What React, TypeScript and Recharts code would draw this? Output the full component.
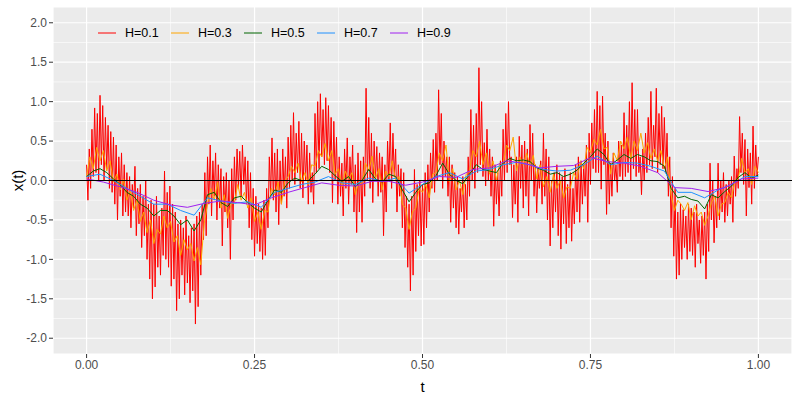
import { LineChart, Line, XAxis, YAxis, CartesianGrid, ReferenceLine } from "recharts";

const SERIES_NAMES = ["H=0.1", "H=0.3", "H=0.5", "H=0.7", "H=0.9"];
const SERIES_COLORS = ["#FF0000", "#FFA500", "#006400", "#1E90FF", "#A020F0"];

const X_TICKS = [0, 0.25, 0.5, 0.75, 1];
const Y_TICKS = [-2, -1.5, -1, -0.5, 0, 0.5, 1, 1.5, 2];
const X_MINOR = [0.125, 0.375, 0.625, 0.875];
const Y_MINOR = [-1.75, -1.25, -0.75, -0.25, 0.25, 0.75, 1.25, 1.75];

// H=0.1, sampled every 0.002 (one row = 0.02 of t)
const h01 = [
  0.2, -0.25, 0.4, -0.1, 0.65, 0.05, 0.92, 0.1, 0.85, 0.0,
  1.08, 0.2, 0.95, 0.0, 0.8, 0.15, 0.7, -0.1, 0.62, -0.15,
  0.55, -0.3, 0.45, -0.5, 0.3, -0.2, 0.35, -0.45, 0.2, -0.4,
  0.1, -0.45, 0.05, -0.6, -0.05, -0.35, 0.18, -0.7, -0.1, -0.55,
  -0.05, -0.85, -0.2, -0.7, 0.0, -1.0, -0.3, -1.25, -0.25, -1.5,
  -0.3, -1.35, -0.2, -1.1, -0.45, -1.2, -0.35, -0.95, 0.12, -1.0,
  -0.15, -1.1, -0.07, -1.34, -0.3, -1.25, -0.4, -1.65, -0.55, -1.5,
  -0.5, -1.2, -0.6, -1.45, -0.45, -1.3, -0.7, -1.55, -0.6, -1.4,
  -0.55, -1.82, -0.45, -1.6, -0.4, -1.2, -0.3, -0.75, 0.1, -0.7,
  0.3, -0.3, 0.45, -0.45, 0.25, -0.2, 0.35, -0.5, 0.2, -0.35,
  0.15, -0.83, 0.05, -0.4, 0.1, -0.6, 0.0, -1.0, 0.15, -0.5,
  0.3, -0.25, 0.4, -0.1, 0.37, -0.2, 0.45, -0.05, 0.3, -0.3,
  0.25, -0.6, 0.1, -0.75, -0.1, -0.96, -0.2, -0.8, -0.3, -0.9,
  -0.35, -1.0, -0.25, -0.95, -0.1, -0.6, 0.3, -0.2, 0.54, -0.25,
  0.35, -0.4, 0.4, -0.56, 0.25, -0.3, 0.4, -0.2, 0.3, -0.35,
  0.55, -0.1, 0.7, 0.0, 0.86, -0.05, 0.6, 0.1, 0.75, -0.1,
  0.6, -0.22, 0.5, 0.0, 0.45, -0.3, 0.35, -0.15, 0.1, -0.3,
  0.85, 0.1, 1.0, 0.15, 1.1, 0.3, 0.9, 0.2, 1.05, 0.25,
  0.95, 0.1, 0.8, -0.28, 0.75, 0.0, 0.55, -0.3, 0.3, -0.2,
  0.22, -0.45, 0.4, -0.1, 0.54, -0.3, 0.3, -0.05, 0.45, -0.4,
  0.2, -0.66, 0.35, -0.4, 0.25, -0.53, 0.3, -0.2, 1.17, 0.0,
  0.8, -0.1, 0.6, -0.28, 0.5, 0.0, 0.43, -0.2, 0.35, -0.15,
  0.3, -0.7, 0.2, -0.4, 0.5, 0.0, 0.73, -0.1, 0.6, 0.05,
  0.4, -0.4, 0.2, -0.2, 0.15, -0.6, 0.1, -0.85, -0.2, -1.1,
  -0.3, -1.4, -0.2, -1.2, 0.14, -0.9, -0.05, -0.7, 0.0, -0.83,
  -0.05, -0.81, 0.1, -0.6, 0.2, -0.4, 0.35, -0.1, 0.52, -0.15,
  0.6, 0.0, 1.15, 0.2, 0.85, -0.1, 0.5, 0.05, 0.3, -0.2,
  0.3, -0.53, 0.2, -0.35, 0.1, -0.6, 0.05, -0.68, -0.1, -0.4,
  0.05, -0.6, -0.05, -0.5, 0.3, -0.2, 0.9, 0.0, 0.7, -0.1,
  0.85, 0.1, 1.43, 0.2, 1.0, 0.05, 0.48, -0.07, 0.65, 0.0,
  0.4, -0.2, 0.3, -0.58, 0.2, -0.3, 0.1, -0.45, 0.25, -0.2,
  0.65, 0.0, 0.85, 0.1, 1.0, 0.2, 0.3, -0.47, 0.2, -0.3,
  0.3, -0.53, 0.56, -0.1, 0.45, -0.35, 0.5, -0.2, 0.4, -0.45,
  0.71, 0.0, 0.6, -0.2, 0.2, -0.41, 0.15, -0.1, 0.25, -0.3,
  0.6, -0.2, 0.4, -0.5, 0.3, -0.83, 0.0, -0.6, 0.1, -0.4,
  0.2, -0.7, 0.1, -0.87, 0.05, -0.55, 0.15, -0.8, -0.05, -0.6,
  0.1, -0.77, -0.1, -0.55, 0.2, -0.4, 0.3, -0.53, 0.25, -0.3,
  0.2, -0.2, 0.45, -0.53, 0.6, -0.05, 0.73, 0.15, 0.9, 0.1,
  1.13, 0.1, 0.95, -0.11, 1.07, 0.2, 0.6, -0.43, 0.5, -0.3,
  0.22, -0.2, 0.35, 0.0, 0.2, -0.15, 0.5, 0.05, 0.45, 0.0,
  0.86, 0.05, 0.7, 0.1, 1.0, 0.0, 1.24, 0.15, 0.9, 0.05,
  0.9, 0.1, 0.3, -0.18, 0.4, 0.0, 0.6, 0.1, 0.8, 0.2,
  1.13, 0.15, 0.7, 0.3, 1.17, 0.1, 0.85, 0.2, 0.94, 0.15,
  0.8, 0.1, 0.6, -0.2, 0.3, -0.6, 0.05, -0.96, -0.1, -1.25,
  -0.4, -1.2, -0.3, -1.0, -0.37, -0.85, -0.45, -1.0, -0.3, -0.9,
  -0.35, -0.95, -0.4, -1.1, -0.3, -0.8, -0.5, -1.05, -0.45, -0.95,
  -0.4, -1.25, -0.3, -0.9, 0.22, -0.5, 0.0, -0.79, -0.2, -0.6,
  0.22, -0.5, 0.0, -0.4, 0.1, -0.53, -0.05, -0.45, 0.0, -0.3,
  0.05, -0.53, 0.31, -0.2, 0.15, -0.1, 0.81, 0.1, 0.6, -0.05,
  0.52, -0.45, 0.4, -0.09, 0.35, -0.3, 0.69, -0.1, 0.45, 0.05,
  0.3,
];

// H=0.3, every 0.005
const h03 = [
  0.05, 0.3, 0.15, 0.42, 0.25, 0.38, 0.12, 0.25, -0.02, 0.08,
  -0.12, 0.02, -0.25, -0.12, -0.38, -0.25, -0.52, -0.4, -0.66, -0.5,
  -0.8, -0.62, -0.68, -0.45, -0.6, -0.52, -0.78, -0.7, -0.95, -0.75,
  -0.88, -0.8, -1.02, -0.85, -1.07, -0.55, -0.3, -0.1, -0.25, -0.02,
  -0.35, -0.18, -0.48, -0.3, -0.28, -0.05, -0.25, -0.15, -0.35, -0.22,
  -0.52, -0.4, -0.62, -0.38, -0.4, -0.1, -0.18, -0.02, -0.3, 0.0,
  0.05, 0.18, 0.1, 0.22, -0.02, 0.1, -0.05, 0.2, 0.18, 0.38,
  0.3, 0.47, 0.25, 0.38, 0.08, 0.15, -0.08, 0.12, 0.02, 0.1,
  -0.18, -0.02, -0.05, 0.22, 0.12, 0.31, 0.02, 0.15, -0.12, 0.12,
  0.05, 0.25, 0.0, 0.05, -0.3, -0.35, -0.62, -0.4, -0.35, -0.1,
  -0.15, -0.05, -0.22, 0.08, 0.1, 0.35, 0.25, 0.45, -0.02, 0.15,
  -0.12, 0.0, -0.18, 0.08, 0.12, 0.38, 0.3, 0.5, 0.2, 0.35,
  0.08, 0.25, 0.0, 0.22, 0.2, 0.45, 0.38, 0.55, 0.12, 0.3,
  0.2, 0.35, 0.18, 0.32, 0.02, 0.2, -0.08, 0.05, -0.15, 0.08,
  -0.1, 0.0, -0.22, -0.08, -0.1, 0.1, 0.02, 0.25, 0.15, 0.42,
  0.35, 0.52, 0.45, 0.65, 0.4, 0.42, 0.08, 0.35, 0.25, 0.5,
  0.4, 0.55, 0.28, 0.5, 0.38, 0.6, 0.35, 0.48, 0.28, 0.4,
  0.25, 0.38, 0.15, 0.3, -0.18, -0.38, -0.25, -0.3, -0.38, -0.28,
  -0.5, -0.32, -0.45, -0.4, -0.57, -0.45, -0.28, -0.2, -0.45, -0.3,
  -0.28, -0.15, -0.22, 0.0, 0.02, 0.28, 0.1, 0.15, -0.05, 0.18,
  0.1,
];

// H=0.5, every 0.01
const h05 = [
  0.05, 0.12, 0.15, 0.1, 0.02, -0.05, -0.15, -0.2, -0.3, -0.35,
  -0.45, -0.38, -0.38, -0.45, -0.56, -0.5, -0.64, -0.5, -0.18, -0.15,
  -0.28, -0.33, -0.22, -0.2, -0.28, -0.35, -0.4, -0.25, -0.12, -0.15,
  -0.03, 0.03, 0.0, 0.0, 0.08, 0.18, 0.14, 0.06, -0.01, 0.05,
  -0.08, 0.0, 0.14, 0.02, -0.02, 0.08, 0.05, -0.12, -0.27, -0.15,
  -0.05, -0.03, 0.06, 0.22, 0.08, 0.0, -0.04, 0.08, 0.2, 0.14,
  0.12, 0.1, 0.22, 0.28, 0.25, 0.26, 0.24, 0.16, 0.13, 0.08,
  0.1, 0.05, 0.08, 0.13, 0.22, 0.3, 0.4, 0.33, 0.2, 0.26,
  0.33, 0.28, 0.33, 0.3, 0.25, 0.24, 0.18, -0.1, -0.22, -0.2,
  -0.24, -0.26, -0.36, -0.18, -0.22, -0.14, -0.07, 0.04, 0.1, 0.03,
  0.07,
];

// H=0.7, every 0.02
const h07 = [
  0.05, 0.08, 0.0, -0.1, -0.2, -0.3, -0.3, -0.38, -0.44, -0.22,
  -0.26, -0.29, -0.27, -0.34, -0.15, -0.1, -0.05, -0.02, 0.05, -0.03,
  -0.05, 0.03, -0.01, 0.03, -0.16, -0.05, 0.05, 0.1, 0.02, 0.12,
  0.14, 0.2, 0.23, 0.2, 0.14, 0.12, 0.13, 0.2, 0.31, 0.2,
  0.23, 0.22, 0.18, 0.12, -0.15, -0.15, -0.22, -0.12, -0.05, 0.05,
  0.05,
];

// H=0.9, every 0.025
const h09 = [
  0.02, -0.02, -0.08, -0.15, -0.25, -0.31, -0.34, -0.29, -0.26, -0.28,
  -0.31, -0.22, -0.15, -0.09, -0.03, -0.06, -0.07, -0.01, -0.01, -0.06,
  -0.02, 0.05, 0.04, 0.14, 0.16, 0.25, 0.22, 0.16, 0.18, 0.19,
  0.29, 0.24, 0.22, 0.18, 0.1, -0.09, -0.1, -0.14, -0.09, 0.02,
  0.03,
];

const SERIES_VALUES = [h01, h03, h05, h07, h09];
const SERIES_STEPS = [0.002, 0.005, 0.01, 0.02, 0.025];

const toPoints = (values: number[], step: number) =>
  values.map((v, i) => ({ t: Number((i * step).toFixed(4)), x: v }));

const FONT = "'Liberation Sans', Arial, sans-serif";

function KeyLegend() {
  return (
    <div
      style={{
        position: "absolute",
        left: 97,
        top: 25,
        display: "flex",
        fontFamily: FONT,
        fontSize: 12.5,
        lineHeight: "16px",
        color: "#000",
      }}
    >
      {SERIES_NAMES.map((name, i) => (
        <div key={name} style={{ display: "flex", alignItems: "center", width: 73 }}>
          <svg width={20} height={16} style={{ marginRight: 8 }}>
            <line x1={1} y1={8} x2={19} y2={8} stroke={SERIES_COLORS[i]} strokeWidth={1} />
          </svg>
          <span>{name}</span>
        </div>
      ))}
    </div>
  );
}

export default function App() {
  return (
    <div style={{ position: "absolute", left: 0, top: 0, width: 800, height: 400, background: "#fff" }}>
      <LineChart width={800} height={400} margin={{ top: 7, right: 8, bottom: 0, left: 0 }}>
        <CartesianGrid fill="#EBEBEB" stroke="#FFFFFF" strokeWidth={1.2} />
        {X_MINOR.map((v) => (
          <ReferenceLine key={"xm" + v} x={v} stroke="#FFFFFF" strokeWidth={0.6} />
        ))}
        {Y_MINOR.map((v) => (
          <ReferenceLine key={"ym" + v} y={v} stroke="#FFFFFF" strokeWidth={0.6} />
        ))}
        <XAxis
          dataKey="t"
          type="number"
          domain={[-0.05, 1.05]}
          ticks={X_TICKS}
          tickFormatter={(v: number) => v.toFixed(2)}
          allowDataOverflow
          axisLine={false}
          tickLine={{ stroke: "#333333" }}
          tickSize={4}
          tick={{ fill: "#4D4D4D", fontSize: 12, fontFamily: FONT }}
          height={46}
          label={{ value: "t", position: "insideBottom", offset: 8, fill: "#000", fontSize: 15, fontFamily: FONT }}
        />
        <YAxis
          type="number"
          domain={[-2.2, 2.2]}
          ticks={Y_TICKS}
          tickFormatter={(v: number) => v.toFixed(1)}
          allowDataOverflow
          axisLine={false}
          tickLine={{ stroke: "#333333" }}
          tickSize={4}
          tick={{ fill: "#4D4D4D", fontSize: 12, fontFamily: FONT }}
          width={53}
          label={{
            value: "x(t)",
            angle: -90,
            position: "insideLeft",
            offset: 18,
            textAnchor: "middle",
            fill: "#000",
            fontSize: 15,
            fontFamily: FONT,
          }}
        />
        {SERIES_VALUES.map((vals, i) => (
          <Line
            key={SERIES_NAMES[i]}
            data={toPoints(vals, SERIES_STEPS[i])}
            dataKey="x"
            name={SERIES_NAMES[i]}
            type="linear"
            stroke={SERIES_COLORS[i]}
            strokeWidth={1}
            dot={false}
            activeDot={false}
            isAnimationActive={false}
          />
        ))}
        <ReferenceLine y={0} stroke="#000000" strokeWidth={1.1} />
      </LineChart>
      <KeyLegend />
    </div>
  );
}
